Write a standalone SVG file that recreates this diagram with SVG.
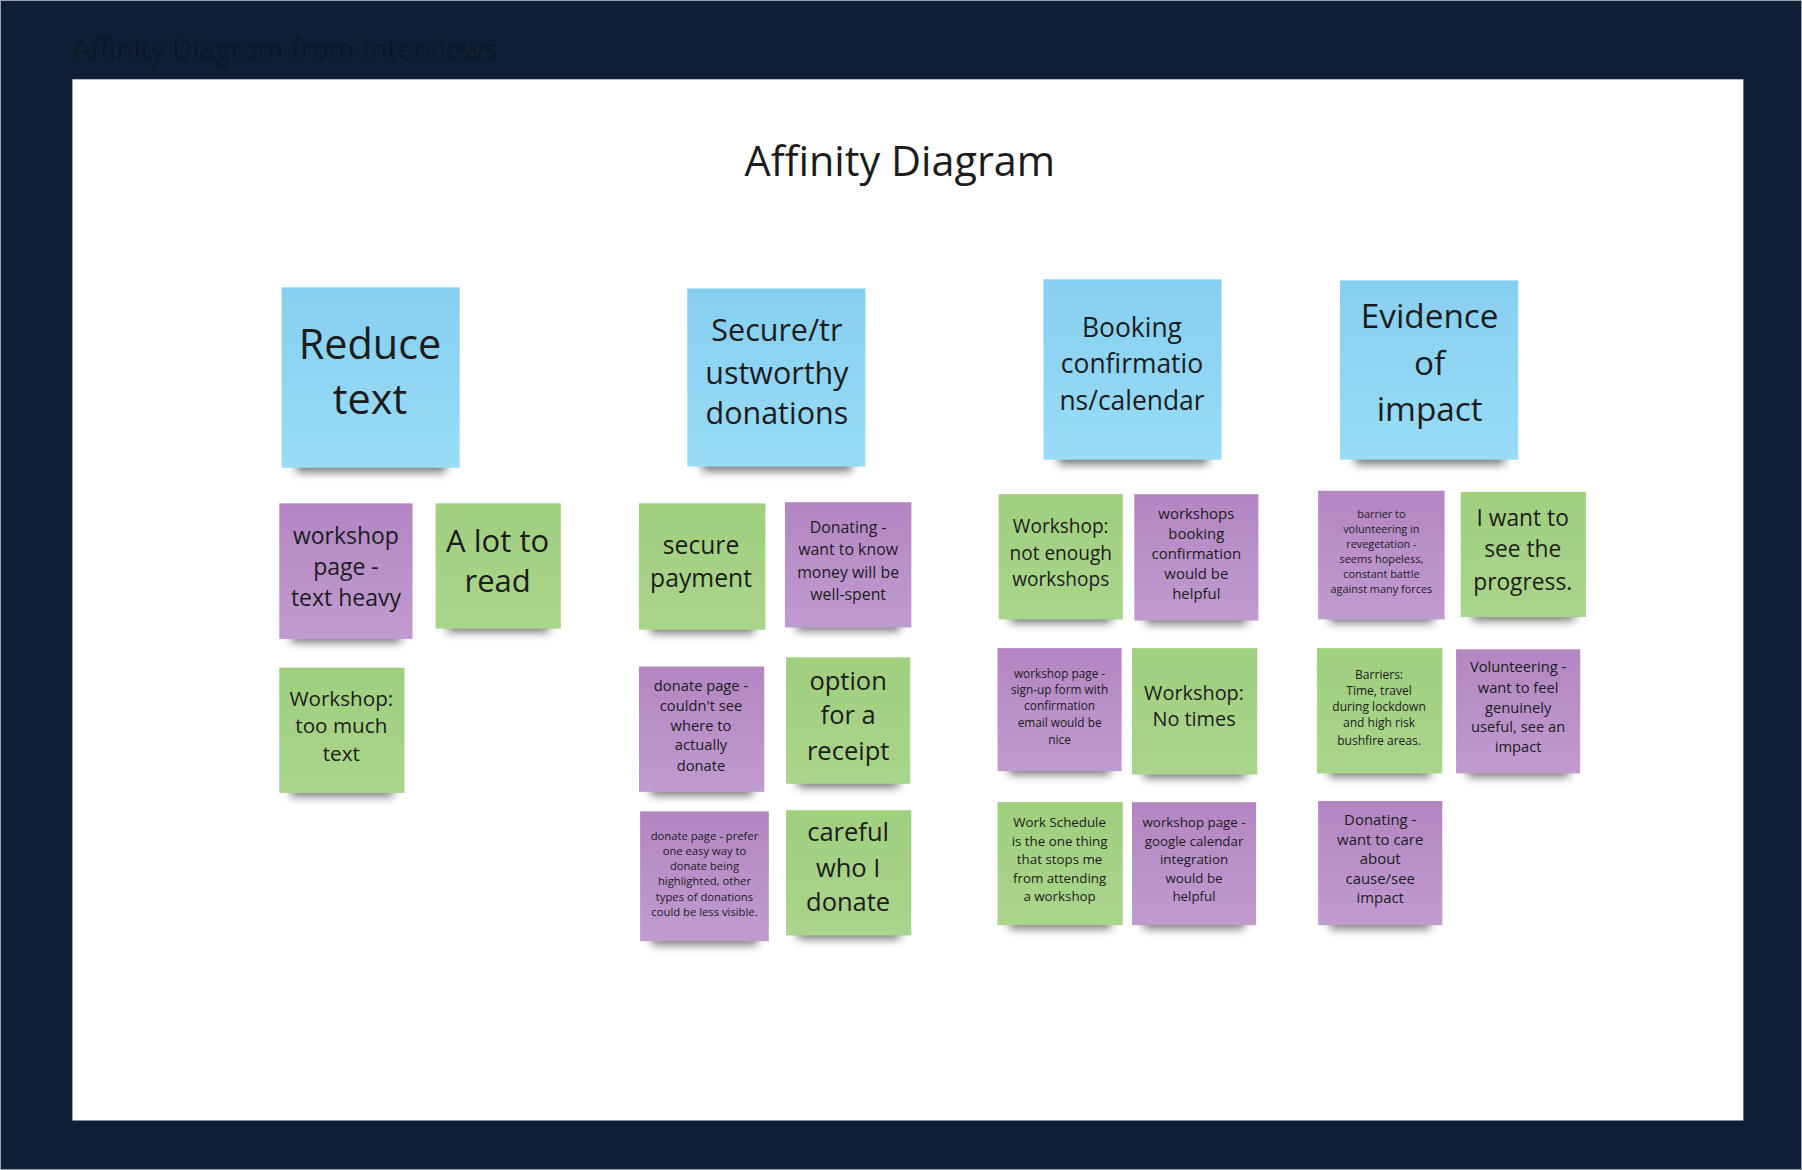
<svg xmlns="http://www.w3.org/2000/svg" width="1802" height="1170" viewBox="0 0 1802 1170">
<defs>
<linearGradient id="gb" x1="0" y1="0" x2="0" y2="1"><stop offset="0" stop-color="#87cff0"/><stop offset="1" stop-color="#98dcf7"/></linearGradient>
<linearGradient id="gp" x1="0" y1="0" x2="0" y2="1"><stop offset="0" stop-color="#b386c1"/><stop offset="1" stop-color="#c09bd0"/></linearGradient>
<linearGradient id="gg" x1="0" y1="0" x2="0" y2="1"><stop offset="0" stop-color="#a0cf7e"/><stop offset="1" stop-color="#aad58c"/></linearGradient>
<filter id="blur" x="-20%" y="-100%" width="140%" height="300%"><feGaussianBlur stdDeviation="4"/></filter>
<style>
.b{fill:url(#gb)}
.p{fill:url(#gp)}
.g{fill:url(#gg)}
.sh{fill:#000;opacity:0.55;filter:url(#blur)}
.t{font-family:"Open Sans","Liberation Sans",sans-serif;fill:#1c1c1c;text-anchor:middle}
</style>
</defs>
<rect x="0" y="0" width="1802" height="1170" fill="#0f1e32"/>
<rect x="0.5" y="0.5" width="1801" height="1169" fill="none" stroke="#9aa3ad" stroke-width="1"/>
<g transform="scale(1.14923)">
<text x="63" y="51" font-family="Open Sans, Liberation Sans, sans-serif" font-size="24.5" fill="#0b1828">Affinity Diagram from Interviews</text>
<rect x="63" y="69" width="1454" height="906" fill="#ffffff"/>
<text class="t" x="783" y="153" font-size="36">Affinity Diagram</text>

<g id="reduce-text">
<rect class="sh" x="258" y="397" width="130" height="14"/>
<rect class="b" x="245" y="250" width="155" height="157"/>
<text class="t" font-size="36"><tspan x="322" y="312">Reduce</tspan><tspan x="322" y="360">text</tspan></text>
</g>
<g id="secure-donations">
<rect class="sh" x="611" y="396" width="130" height="14"/>
<rect class="b" x="598" y="251" width="155" height="155"/>
<text class="t" font-size="26.5"><tspan x="676" y="297">Secure/tr</tspan><tspan x="676" y="334">ustworthy</tspan><tspan x="676" y="369">donations</tspan></text>
</g>
<g id="booking">
<rect class="sh" x="921" y="390" width="130" height="14"/>
<rect class="b" x="908" y="243" width="155" height="157"/>
<text class="t" font-size="23"><tspan x="985" y="293">Booking</tspan><tspan x="985" y="325">confirmatio</tspan><tspan x="985" y="357">ns/calendar</tspan></text>
</g>
<g id="evidence">
<rect class="sh" x="1179" y="390" width="130" height="14"/>
<rect class="b" x="1166" y="244" width="155" height="156"/>
<text class="t" font-size="29"><tspan x="1244" y="285">Evidence</tspan><tspan x="1244" y="326">of</tspan><tspan x="1244" y="366">impact</tspan></text>
</g>

<g id="n-workshop-text-heavy">
<rect class="sh" x="253" y="547" width="96" height="12"/>
<rect class="p" x="243" y="438" width="116" height="118"/>
<text class="t" font-size="20"><tspan x="301" y="473">workshop</tspan><tspan x="301" y="500">page -</tspan><tspan x="301" y="527">text heavy</tspan></text>
</g>
<g id="n-lot-to-read">
<rect class="sh" x="389" y="538" width="89" height="12"/>
<rect class="g" x="379" y="438" width="109" height="109"/>
<text class="t" font-size="27"><tspan x="433" y="480">A lot to</tspan><tspan x="433" y="515">read</tspan></text>
</g>
<g id="n-too-much-text">
<rect class="sh" x="253" y="681" width="89" height="12"/>
<rect class="g" x="243" y="581" width="109" height="109"/>
<text class="t" font-size="18"><tspan x="297" y="614">Workshop:</tspan><tspan x="297" y="638">too much</tspan><tspan x="297" y="662">text</tspan></text>
</g>

<g id="n-secure-payment">
<rect class="sh" x="566" y="539" width="90" height="12"/>
<rect class="g" x="556" y="438" width="110" height="110"/>
<text class="t" font-size="21.5"><tspan x="610" y="482">secure</tspan><tspan x="610" y="511">payment</tspan></text>
</g>
<g id="n-well-spent">
<rect class="sh" x="693" y="537" width="90" height="12"/>
<rect class="p" x="683" y="437" width="110" height="109"/>
<text class="t" font-size="13.8"><tspan x="738" y="464">Donating -</tspan><tspan x="738" y="483">want to know</tspan><tspan x="738" y="503">money will be</tspan><tspan x="738" y="522">well-spent</tspan></text>
</g>
<g id="n-couldnt-see">
<rect class="sh" x="566" y="680" width="89" height="12"/>
<rect class="p" x="556" y="580" width="109" height="109"/>
<text class="t" font-size="12.8"><tspan x="610" y="601">donate page -</tspan><tspan x="610" y="619">couldn't see</tspan><tspan x="610" y="636">where to</tspan><tspan x="610" y="653">actually</tspan><tspan x="610" y="671">donate</tspan></text>
</g>
<g id="n-receipt">
<rect class="sh" x="694" y="673" width="88" height="12"/>
<rect class="g" x="684" y="572" width="108" height="110"/>
<text class="t" font-size="22.2"><tspan x="738" y="600">option</tspan><tspan x="738" y="630">for a</tspan><tspan x="738" y="661">receipt</tspan></text>
</g>
<g id="n-one-easy-way">
<rect class="sh" x="567" y="810" width="92" height="12"/>
<rect class="p" x="557" y="706" width="112" height="113"/>
<text class="t" font-size="9.8"><tspan x="613" y="731">donate page - prefer</tspan><tspan x="613" y="744">one easy way to</tspan><tspan x="613" y="757">donate being</tspan><tspan x="613" y="770">highlighted, other</tspan><tspan x="613" y="784">types of donations</tspan><tspan x="613" y="797">could be less visible.</tspan></text>
</g>
<g id="n-careful">
<rect class="sh" x="694" y="805" width="89" height="12"/>
<rect class="g" x="684" y="705" width="109" height="109"/>
<text class="t" font-size="22.2"><tspan x="738" y="732">careful</tspan><tspan x="738" y="763">who I</tspan><tspan x="738" y="793">donate</tspan></text>
</g>

<g id="n-not-enough">
<rect class="sh" x="879" y="530" width="88" height="12"/>
<rect class="g" x="869" y="430" width="108" height="109"/>
<text class="t" font-size="16.6"><tspan x="923" y="464">Workshop:</tspan><tspan x="923" y="487">not enough</tspan><tspan x="923" y="510">workshops</tspan></text>
</g>
<g id="n-booking-confirmation">
<rect class="sh" x="997" y="531" width="88" height="12"/>
<rect class="p" x="987" y="430" width="108" height="110"/>
<text class="t" font-size="13"><tspan x="1041" y="452">workshops</tspan><tspan x="1041" y="469">booking</tspan><tspan x="1041" y="486">confirmation</tspan><tspan x="1041" y="504">would be</tspan><tspan x="1041" y="521">helpful</tspan></text>
</g>
<g id="n-signup-form">
<rect class="sh" x="878" y="662" width="88" height="12"/>
<rect class="p" x="868" y="564" width="108" height="107"/>
<text class="t" font-size="10.3"><tspan x="922" y="590">workshop page -</tspan><tspan x="922" y="604">sign-up form with</tspan><tspan x="922" y="618">confirmation</tspan><tspan x="922" y="633">email would be</tspan><tspan x="922" y="647">nice</tspan></text>
</g>
<g id="n-no-times">
<rect class="sh" x="995" y="665" width="89" height="12"/>
<rect class="g" x="985" y="564" width="109" height="110"/>
<text class="t" font-size="17.3"><tspan x="1039" y="609">Workshop:</tspan><tspan x="1039" y="632">No times</tspan></text>
</g>
<g id="n-work-schedule">
<rect class="sh" x="878" y="796" width="89" height="12"/>
<rect class="g" x="868" y="698" width="109" height="107"/>
<text class="t" font-size="11.6"><tspan x="922" y="720">Work Schedule</tspan><tspan x="922" y="736">is the one thing</tspan><tspan x="922" y="752">that stops me</tspan><tspan x="922" y="768">from attending</tspan><tspan x="922" y="784">a workshop</tspan></text>
</g>
<g id="n-google-calendar">
<rect class="sh" x="995" y="796" width="88" height="12"/>
<rect class="p" x="985" y="698" width="108" height="107"/>
<text class="t" font-size="11.6"><tspan x="1039" y="720">workshop page -</tspan><tspan x="1039" y="736">google calendar</tspan><tspan x="1039" y="752">integration</tspan><tspan x="1039" y="768">would be</tspan><tspan x="1039" y="784">helpful</tspan></text>
</g>

<g id="n-barrier-volunteering">
<rect class="sh" x="1157" y="530" width="90" height="12"/>
<rect class="p" x="1147" y="427" width="110" height="112"/>
<text class="t" font-size="9.5"><tspan x="1202" y="451">barrier to</tspan><tspan x="1202" y="464">volunteering in</tspan><tspan x="1202" y="477">revegetation -</tspan><tspan x="1202" y="490">seems hopeless,</tspan><tspan x="1202" y="503">constant battle</tspan><tspan x="1202" y="516">against many forces</tspan></text>
</g>
<g id="n-progress">
<rect class="sh" x="1281" y="528" width="89" height="12"/>
<rect class="g" x="1271" y="428" width="109" height="109"/>
<text class="t" font-size="19.8"><tspan x="1325" y="458">I want to</tspan><tspan x="1325" y="485">see the</tspan><tspan x="1325" y="513">progress.</tspan></text>
</g>
<g id="n-barriers-time">
<rect class="sh" x="1156" y="664" width="89" height="12"/>
<rect class="g" x="1146" y="564" width="109" height="109"/>
<text class="t" font-size="10.5"><tspan x="1200" y="591">Barriers:</tspan><tspan x="1200" y="605">Time, travel</tspan><tspan x="1200" y="619">during lockdown</tspan><tspan x="1200" y="633">and high risk</tspan><tspan x="1200" y="648">bushfire areas.</tspan></text>
</g>
<g id="n-feel-useful">
<rect class="sh" x="1277" y="664" width="88" height="12"/>
<rect class="p" x="1267" y="565" width="108" height="108"/>
<text class="t" font-size="12.8"><tspan x="1321" y="585">Volunteering -</tspan><tspan x="1321" y="603">want to feel</tspan><tspan x="1321" y="620">genuinely</tspan><tspan x="1321" y="637">useful, see an</tspan><tspan x="1321" y="654">impact</tspan></text>
</g>
<g id="n-care-about-cause">
<rect class="sh" x="1157" y="796" width="88" height="12"/>
<rect class="p" x="1147" y="697" width="108" height="108"/>
<text class="t" font-size="13"><tspan x="1201" y="718">Donating -</tspan><tspan x="1201" y="735">want to care</tspan><tspan x="1201" y="752">about</tspan><tspan x="1201" y="769">cause/see</tspan><tspan x="1201" y="786">impact</tspan></text>
</g>
<g id="connectors"></g>
</g>
</svg>
